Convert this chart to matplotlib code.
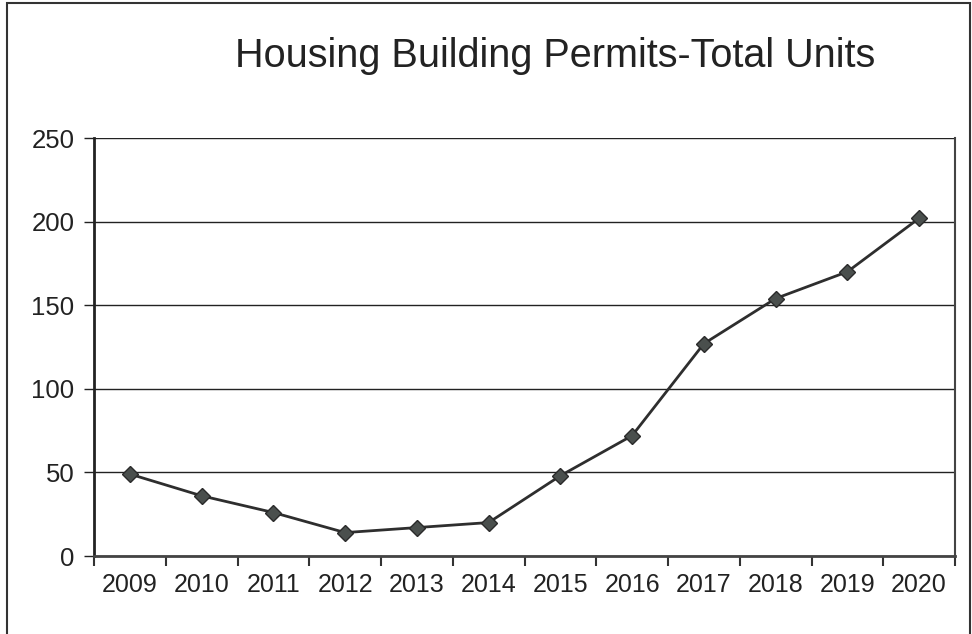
import matplotlib
matplotlib.use("Agg")
import matplotlib.pyplot as plt
from matplotlib.patches import Rectangle
import numpy as np

# Dati
years = ['2009', '2010', '2011', '2012', '2013', '2014',
         '2015', '2016', '2017', '2018', '2019', '2020']
units = [49, 36, 26, 14, 17, 20, 48, 72, 127, 154, 170, 202]
y_ticks = [0, 50, 100, 150, 200, 250]

plt.rcParams['font.family'] = ['Liberation Sans', 'DejaVu Sans']

fig = plt.figure(figsize=(9.72, 6.34), dpi=100)
ax = fig.add_axes([94/972, 1 - 556/634, (955 - 94)/972, (556 - 138)/634])

x = np.arange(len(years))
ax.plot(x, units, color='#2e2e2e', lw=2, marker='D', markersize=8,
        markerfacecolor='#4a4f4d', markeredgecolor='#2a2a2a', zorder=3)

# Griglia orizzontale
ax.set_ylim(0, 250)
ax.set_yticks(y_ticks)
ax.grid(axis='y', color='#222222', lw=1)
ax.set_axisbelow(True)

# Categorie con tacche ai bordi (stile Excel)
ax.set_xlim(-0.5, len(years) - 0.5)
ax.set_xticks(x)
ax.set_xticklabels(years)
ax.set_xticks(np.arange(-0.5, len(years)), minor=True)
ax.tick_params(axis='x', which='major', length=0, pad=12, labelsize=18, colors='#222222')
ax.tick_params(axis='x', which='minor', length=7, width=1.5, direction='out', color='#333333')
ax.tick_params(axis='y', length=7, width=1, direction='out', labelsize=18.5, pad=7, colors='#222222')

ax.spines['top'].set_visible(False)
ax.spines['left'].set_linewidth(2)
ax.spines['left'].set_color('#222222')
ax.spines['bottom'].set_linewidth(2)
ax.spines['bottom'].set_color('#444444')
ax.spines['right'].set_linewidth(1.5)
ax.spines['right'].set_color('#444444')

fig.text(555/972, 1 - 56/634, 'Housing Building Permits-Total Units',
         ha='center', va='center', fontsize=28.5, color='#222222')

# Cornice esterna
fig.patches.append(Rectangle((7/972, -0.02), (970 - 7)/972, 1.02 - 3/634,
                             transform=fig.transFigure, fill=False,
                             edgecolor='#333333', lw=1.5))

fig.savefig('out.png', dpi=100)
